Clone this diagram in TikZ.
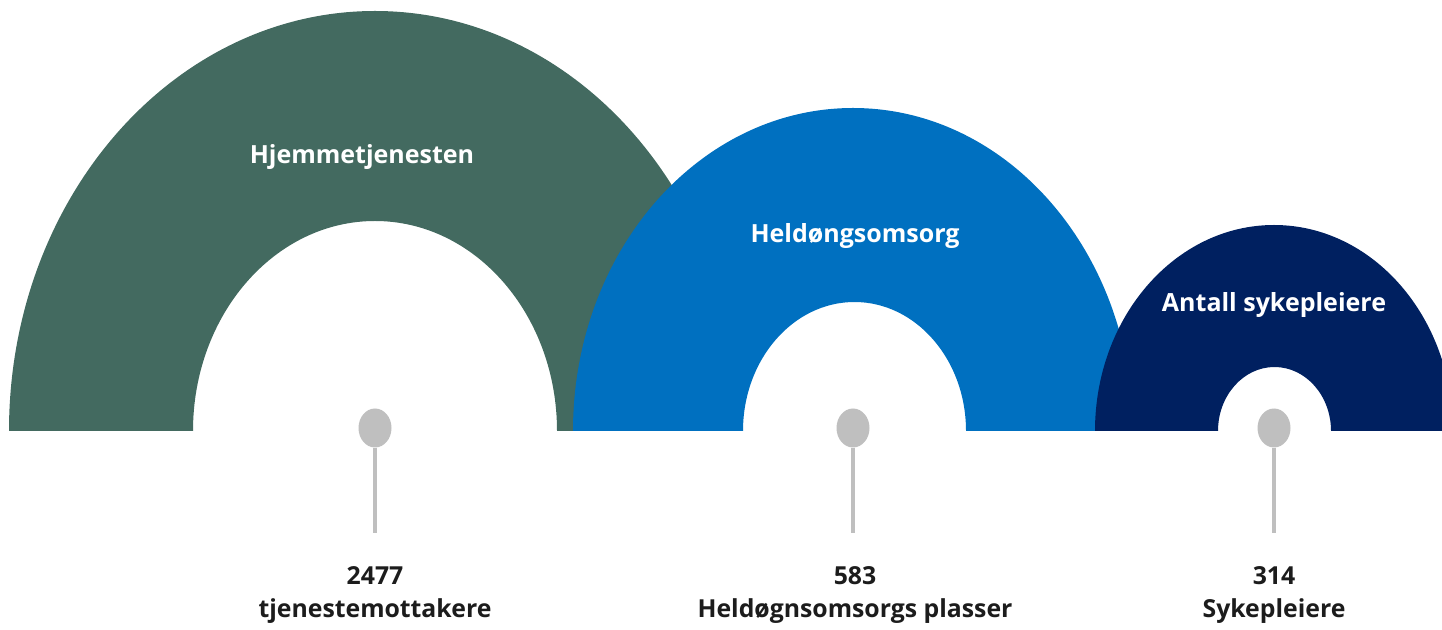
\documentclass[tikz,border=0pt]{standalone}
\usepackage{fontspec}
\setmainfont{Open Sans}
\usetikzlibrary{positioning,shapes.geometric}
\definecolor{hjemgreen}{HTML}{436A60}
\definecolor{heldblue}{HTML}{0070C0}
\definecolor{sykenavy}{HTML}{002060}
\definecolor{pingray}{HTML}{BFBFBF}
\definecolor{txtdark}{HTML}{1C1C1C}
\begin{document}
\begin{tikzpicture}[x=1pt,y=1pt,
    title/.style={text=white,font=\bfseries\fontsize{25}{30}\selectfont},
    pin/.style={fill=pingray,draw=none,ellipse,minimum width=33pt,minimum height=39pt,inner sep=0pt},
    stem/.style={draw=pingray,line width=4.5pt},
    value/.style={text=txtdark,font=\bfseries\fontsize{24.8}{33}\selectfont,align=center}]
    \useasboundingbox (0,0) rectangle (1442,629);
    % arches
    \fill[hjemgreen] (9,198) arc[start angle=180,end angle=0,x radius=366,y radius=420]
        -- (557,198) arc[start angle=0,end angle=180,x radius=182,y radius=210] -- cycle;
    \fill[heldblue] (573,198) arc[start angle=180,end angle=0,x radius=280,y radius=323]
        -- (966,198) arc[start angle=0,end angle=180,x radius=111.5,y radius=129] -- cycle;
    \fill[sykenavy] (1095,198) arc[start angle=180,end angle=0,x radius=179,y radius=206]
        -- (1331,198) arc[start angle=0,end angle=180,x radius=56.5,y radius=64] -- cycle;
    % titles
    \node[title] (hjem) at (362,472) {Hjemmetjenesten};
    \node[title] (held) at (855,393) {Heldøngsomsorg};
    \node[title] (syke) at (1274,324) {Antall sykepleiere};
    % pins
    \foreach \n/\x in {p1/375,p2/853,p3/1274}{
        \coordinate (\n end) at (\x,96);
        \node[pin] (\n) at (\x,201) {};
        \draw[stem] (\n.south) -- (\n end);
    }
    % values
    \node[value] (v1) at (375,34) {2477\\tjenestemottakere};
    \node[value] (v2) at (855,34) {583\\Heldøgnsomsorgs plasser};
    \node[value] (v3) at (1274,34) {314\\Sykepleiere};
\end{tikzpicture}
\end{document}
